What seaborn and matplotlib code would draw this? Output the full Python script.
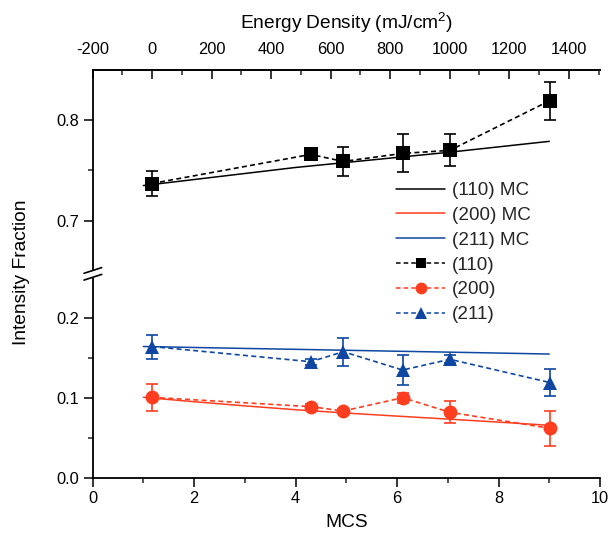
import matplotlib
matplotlib.use("Agg")
import numpy as np
import pandas as pd
import seaborn as sns
import matplotlib.pyplot as plt
from matplotlib.lines import Line2D
from matplotlib.patches import Polygon
from matplotlib.ticker import MultipleLocator, FixedLocator, FormatStrFormatter

# ---------------- data ----------------
mcs = [1.165, 4.30, 4.94, 6.11, 7.04, 9.01]
f110 = [0.737, 0.766, 0.759, 0.767, 0.770, 0.8195]
e110 = [0.012, 0.005, 0.014, 0.019, 0.016, 0.019]
f200 = [0.1005, 0.0888, 0.0834, 0.100, 0.0818, 0.0618]
e200 = [0.017, 0.003, 0.003, 0.006, 0.014, 0.022]
f211 = [0.164, 0.145, 0.1575, 0.1346, 0.148, 0.119]
e211 = [0.015, 0.004, 0.0175, 0.0185, 0.005, 0.017]

mc_x = [1, 2, 3, 4, 5, 6, 7, 8, 9]
mc110 = [0.735, 0.741, 0.747, 0.753, 0.758, 0.763, 0.768, 0.7735, 0.779]
mc200 = [0.1005, 0.0950, 0.0898, 0.0850, 0.0808, 0.0770, 0.0733, 0.0695, 0.0655]
mc211 = [0.164, 0.1628, 0.1616, 0.1605, 0.1593, 0.1581, 0.1570, 0.1558, 0.1546]

energy_ticks = [-200, 0, 200, 400, 600, 800, 1000, 1200, 1400]
labels = ["(110) MC", "(200) MC", "(211) MC", "(110)", "(200)", "(211)"]

# energy density <-> MCS mapping of the top axis
E_SLOPE, E_OFF = 170.5, -200.0

df_pts = pd.DataFrame({"MCS": mcs, "f110": f110, "f200": f200, "f211": f211})
df_mc = pd.DataFrame({"MCS": mc_x, "m110": mc110, "m200": mc200, "m211": mc211})

# ---------------- style ----------------
sns.set_theme(style="ticks")
plt.rcParams["font.family"] = ["Liberation Sans", "DejaVu Sans"]
plt.rcParams["mathtext.default"] = "regular"
plt.rcParams["axes.unicode_minus"] = False

BLACK = "#000000"
RED = "#FF3D1F"
BLUE = "#0D47A1"
DASH = (0, (3, 2))

W, H = 608, 539
fig = plt.figure(figsize=(W / 100, H / 100), dpi=100)
fig.patch.set_facecolor("white")

def fx(px):
    return px / W

def fy(py):
    return 1 - py / H

L, R = 92.6, 600
T, B, BRK = 70, 477.7, 277
ax_hi = fig.add_axes([fx(L), fy(BRK), (R - L) / W, (BRK - T) / H])
ax_lo = fig.add_axes([fx(L), fy(B), (R - L) / W, (B - BRK) / H])

# ---------------- MC lines ----------------
sns.lineplot(data=df_mc, x="MCS", y="m110", ax=ax_hi, color=BLACK, lw=1.1, legend=False)
sns.lineplot(data=df_mc, x="MCS", y="m200", ax=ax_lo, color=RED, lw=1.1, legend=False)
sns.lineplot(data=df_mc, x="MCS", y="m211", ax=ax_lo, color=BLUE, lw=1.1, legend=False)

# ---------------- measured points ----------------
def measured(ax, col, err, color, marker, ms):
    ax.errorbar(df_pts["MCS"], df_pts[col], yerr=err, fmt="none", ecolor=color,
                elinewidth=1.2, capsize=4.5, capthick=1.2, zorder=3)
    sns.lineplot(data=df_pts, x="MCS", y=col, ax=ax, color=color, lw=1.2,
                 linestyle=DASH, marker=marker, markersize=ms, markeredgewidth=0,
                 legend=False, zorder=4)

measured(ax_hi, "f110", e110, BLACK, "s", 9.5)
measured(ax_lo, "f200", e200, RED, "o", 10)
measured(ax_lo, "f211", e211, BLUE, "^", 10)

# ---------------- axes ----------------
for ax in (ax_hi, ax_lo):
    ax.set_xlim(0, 10)
    ax.set_facecolor("white")
    ax.spines["right"].set_visible(False)
    for s in ax.spines.values():
        s.set_linewidth(1.3)
        s.set_color("black")
    ax.set_xlabel("")
    ax.set_ylabel("")
    ax.tick_params(which="major", length=6.5, width=1.1, labelsize=11.8, colors="black",
                   direction="out", pad=3)
    ax.tick_params(which="minor", length=3.5, width=1.1, direction="out")

ax_hi.set_ylim(0.644, 0.85)
ax_hi.yaxis.set_major_locator(FixedLocator([0.7, 0.8]))
ax_hi.yaxis.set_minor_locator(FixedLocator([0.75]))
ax_hi.spines["bottom"].set_visible(False)
ax_hi.tick_params(axis="x", which="both", bottom=False, labelbottom=False,
                  top=False, labeltop=False)

ax_lo.set_ylim(0, 0.2509)
ax_lo.yaxis.set_major_locator(FixedLocator([0.0, 0.1, 0.2]))
ax_lo.yaxis.set_minor_locator(FixedLocator([0.05, 0.15]))
ax_lo.xaxis.set_major_locator(MultipleLocator(2))
ax_lo.xaxis.set_minor_locator(MultipleLocator(1))
ax_lo.spines["top"].set_visible(False)
ax_lo.yaxis.set_major_formatter(FormatStrFormatter("%.1f"))
ax_hi.yaxis.set_major_formatter(FormatStrFormatter("%.1f"))
ax_lo.set_xlabel("MCS", fontsize=13.8, labelpad=6, color="black")

# top energy axis
sec = ax_hi.secondary_xaxis("top", functions=(lambda m: E_SLOPE * m + E_OFF,
                                               lambda e: (e - E_OFF) / E_SLOPE))
sec.xaxis.set_major_locator(FixedLocator(energy_ticks))
sec.xaxis.set_minor_locator(MultipleLocator(100))
sec.spines["top"].set_linewidth(1.3)
sec.tick_params(which="major", direction="in", length=6.5, width=1.1, labelsize=11.8,
                pad=9, colors="black")
sec.tick_params(which="minor", direction="in", length=3.5, width=1.1)
sec.set_xlabel("Energy Density (mJ/cm$^2$)", fontsize=13.8, labelpad=10, color="black")

fig.text(fx(22), fy(272), "Intensity Fraction", rotation=90, ha="center", va="center",
         fontsize=13.8, color="black")

# ---------------- axis break mark ----------------
gap = Polygon([[fx(86), fy(272.6)], [fx(100), fy(267.6)], [fx(100), fy(275.3)], [fx(86), fy(280.3)]],
              closed=True, transform=fig.transFigure, facecolor="white", edgecolor="none", zorder=5)
fig.add_artist(gap)
for dy in (0, 6.8):
    fig.add_artist(Line2D([fx(84), fx(101.7)], [fy(273.3 + dy), fy(267.6 + dy)],
                          transform=fig.transFigure, color="black", lw=1.2, zorder=6))

# ---------------- legend ----------------
handles = [
    Line2D([], [], color=BLACK, lw=1.1),
    Line2D([], [], color=RED, lw=1.1),
    Line2D([], [], color=BLUE, lw=1.1),
    Line2D([], [], color=BLACK, lw=1.1, ls=DASH, marker="s", ms=7.5, mew=0),
    Line2D([], [], color=RED, lw=1.1, ls=DASH, marker="o", ms=8.5, mew=0),
    Line2D([], [], color=BLUE, lw=1.1, ls=DASH, marker="^", ms=8.5, mew=0),
]
fig.legend(handles, labels, loc="upper left", bbox_to_anchor=(fx(396), fy(182)),
           frameon=False, fontsize=13.6, handlelength=2.6, handletextpad=0.35,
           labelspacing=0.4, borderpad=0, borderaxespad=0)

fig.savefig("out.png", dpi=100, facecolor="white")
